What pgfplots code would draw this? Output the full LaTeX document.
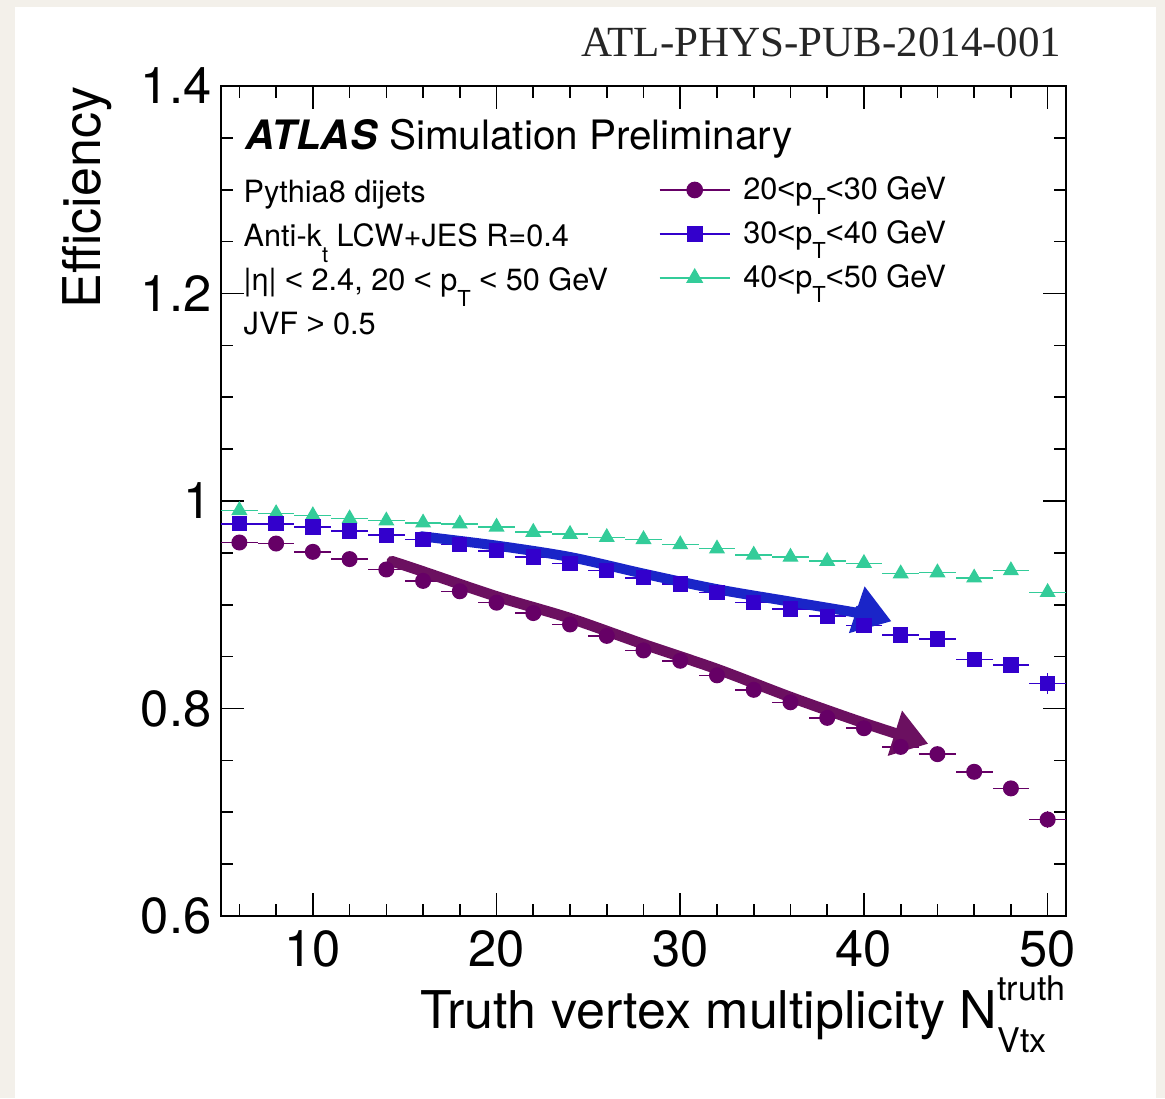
\documentclass[border=0pt]{standalone}
\usepackage{fontspec}
\setmainfont{TeX Gyre Heros}
\newfontfamily\docfont{Liberation Serif}
\newfontfamily\relfont{Liberation Sans}
\usepackage{pgfplots}
\pgfplotsset{compat=1.18}
\usetikzlibrary{arrows.meta}

\definecolor{pagebg}{HTML}{F3F0EA}
\definecolor{cpurple}{HTML}{660066}
\definecolor{cblue}{HTML}{3300CC}
\definecolor{cgreen}{HTML}{33CC99}
\definecolor{apurple}{HTML}{6B1060}
\definecolor{ablue}{HTML}{1A25C8}

% ROOT-style low subscript
\newcommand{\sub}[1]{\raisebox{-4.6pt}{\fontsize{6.6}{7}\selectfont #1}}
\newcommand{\lt}{{\relfont <}}
\newcommand{\gt}{{\relfont >}}

% efficiency vs. number of truth vertices, three pT bins
\pgfplotstableread{
x   y     ey
6   0.960 0
8   0.959 0
10  0.951 0
12  0.944 0
14  0.934 0
16  0.923 0
18  0.913 0
20  0.902 0
22  0.892 0
24  0.881 0
26  0.870 0
28  0.856 0
30  0.846 0
32  0.832 0
34  0.818 0
36  0.806 0
38  0.791 0
40  0.781 0
42  0.763 0
44  0.756 0
46  0.739 0
48  0.723 0.004
50  0.693 0.008
}\ptlow
\pgfplotstableread{
x   y     ey
6   0.978 0
8   0.978 0
10  0.975 0
12  0.971 0
14  0.967 0
16  0.963 0
18  0.958 0
20  0.952 0
22  0.946 0
24  0.940 0
26  0.933 0
28  0.926 0
30  0.920 0
32  0.912 0
34  0.902 0
36  0.896 0
38  0.889 0
40  0.880 0
42  0.871 0
44  0.867 0
46  0.847 0
48  0.842 0.004
50  0.824 0.010
}\ptmid
\pgfplotstableread{
x   y     ey
6   0.991 0
8   0.988 0
10  0.986 0
12  0.983 0
14  0.981 0
16  0.979 0
18  0.978 0
20  0.975 0
22  0.970 0
24  0.968 0
26  0.965 0
28  0.963 0
30  0.958 0
32  0.954 0
34  0.948 0
36  0.946 0
38  0.942 0
40  0.940 0
42  0.930 0
44  0.931 0
46  0.926 0
48  0.933 0
50  0.912 0
}\pthigh

\begin{document}
\begin{tikzpicture}[x=1pt,y=1pt]
\useasboundingbox (0,0) rectangle (349.5,329.4);
\fill[pagebg] (0,0) rectangle (349.5,329.4);
\fill[white] (4.5,0) rectangle (346.8,327.3);

\begin{axis}[
  at={(66.3pt,54.6pt)}, anchor=south west,
  scale only axis, width=253.5pt, height=249pt,
  xmin=5, xmax=51, ymin=0.6, ymax=1.4,
  xtick={10,20,30,40,50}, minor xtick={6,8,...,50},
  ytick={0.6,0.8,1,1.2,1.4}, minor y tick num=3,
  tick align=inside,
  major tick length=7pt, minor tick length=3.7pt,
  axis line style={line width=0.6pt},
  every tick/.style={black, line width=0.5pt},
  tick label style={font=\fontsize{15.2}{18}\selectfont, inner sep=0pt},
  /pgf/number format/assume math mode=true,
  xticklabel style={yshift=-4.2pt},
  yticklabel style={xshift=-2.7pt},
  legend style={draw=none, fill=none, inner sep=0pt,
    at={(0.5172,0.8916)}, anchor=north west,
    font=\fontsize{9.2}{11}\selectfont,
    nodes={inner sep=0pt, text height=6.9pt, text depth=6.3pt},
    column sep=3.8pt, row sep=0pt},
  legend cell align=left,
  legend image code/.code={\draw[mark repeat=2,mark phase=2,#1] plot coordinates {(0pt,2.6pt)(10.5pt,2.6pt)(21pt,2.6pt)};},
]

% horizontal error bars span the 2-unit bin width
\addplot[forget plot, cgreen, only marks, mark=triangle*, mark size=2.4pt,
  error bars/.cd, x dir=both, x fixed=1, y dir=both, y explicit, error mark=none,
  error bar style={line width=0.45pt, cgreen}]
  table[x=x, y=y, y error=ey] {\pthigh};
\addplot[forget plot, cblue, only marks, mark=square*, mark size=2.1pt,
  error bars/.cd, x dir=both, x fixed=1, y dir=both, y explicit, error mark=none,
  error bar style={line width=0.45pt, cblue}]
  table[x=x, y=y, y error=ey] {\ptmid};
\addplot[forget plot, cpurple, only marks, mark=*, mark size=2.2pt,
  error bars/.cd, x dir=both, x fixed=1, y dir=both, y explicit, error mark=none,
  error bar style={line width=0.45pt, cpurple}]
  table[x=x, y=y, y error=ey] {\ptlow};

% hand-drawn trend arrows
\addplot[forget plot, ablue, line width=3pt, smooth, line cap=round, line join=round,
  -{Triangle[length=11pt,width=14pt]}]
  coordinates {(15.9,0.966) (20,0.957) (24,0.946) (28,0.930) (32,0.915) (36,0.903) (40,0.891) (41.5,0.884)};
\addplot[forget plot, apurple, line width=3.2pt, smooth, line cap=round, line join=round,
  -{Triangle[length=10.5pt,width=13.5pt]}]
  coordinates {(14.3,0.942) (16,0.932) (20,0.908) (24,0.887) (28,0.862) (32,0.838) (36,0.811) (40,0.786) (43.5,0.766)};

\addlegendimage{cpurple, mark=*, mark size=2.2pt, line width=0.6pt}
\addlegendentry{20\lt p\sub{T}\lt 30 GeV}
\addlegendimage{cblue, mark=square*, mark size=2.1pt, line width=0.6pt}
\addlegendentry{30\lt p\sub{T}\lt 40 GeV}
\addlegendimage{cgreen, mark=triangle*, mark size=2.4pt, line width=0.6pt}
\addlegendentry{40\lt p\sub{T}\lt 50 GeV}
\end{axis}

% labels and annotations
\node[anchor=base east, inner sep=0, font=\docfont\fontsize{12.9}{14}\selectfont, text=black!85]
  at (318.6,312.3) {ATL-PHYS-PUB-2014-001};
\node[rotate=90, anchor=base east, inner sep=0, font=\fontsize{15.6}{18}\selectfont]
  at (30,303.6) {Efficiency};
\node[anchor=base east, inner sep=0, font=\fontsize{15.6}{18}\selectfont]
  at (319.8,21) {Truth vertex multiplicity N\makebox[0pt][l]{\raisebox{-7.2pt}{\fontsize{10.2}{12}\selectfont Vtx}}\raisebox{8.4pt}{\fontsize{10.2}{12}\selectfont truth}};
\node[anchor=base west, inner sep=0, font=\fontsize{12.15}{14}\selectfont]
  at (73.5,284.4) {\textbf{\textit{ATLAS}} Simulation Preliminary};
\begin{scope}[every node/.style={anchor=base west, inner sep=0, font=\fontsize{9.2}{11}\selectfont}]
\node at (72.9,268.5) {Pythia8 dijets};
\node at (72.9,255.3) {Anti-k\sub{t} LCW+JES R=0.4};
\node at (72.9,242.1) {|η| \lt{} 2.4, 20 \lt{} p\sub{T} \lt{} 50 GeV};
\node at (72.9,228.9) {JVF \gt{} 0.5};
\end{scope}
\end{tikzpicture}
\end{document}
